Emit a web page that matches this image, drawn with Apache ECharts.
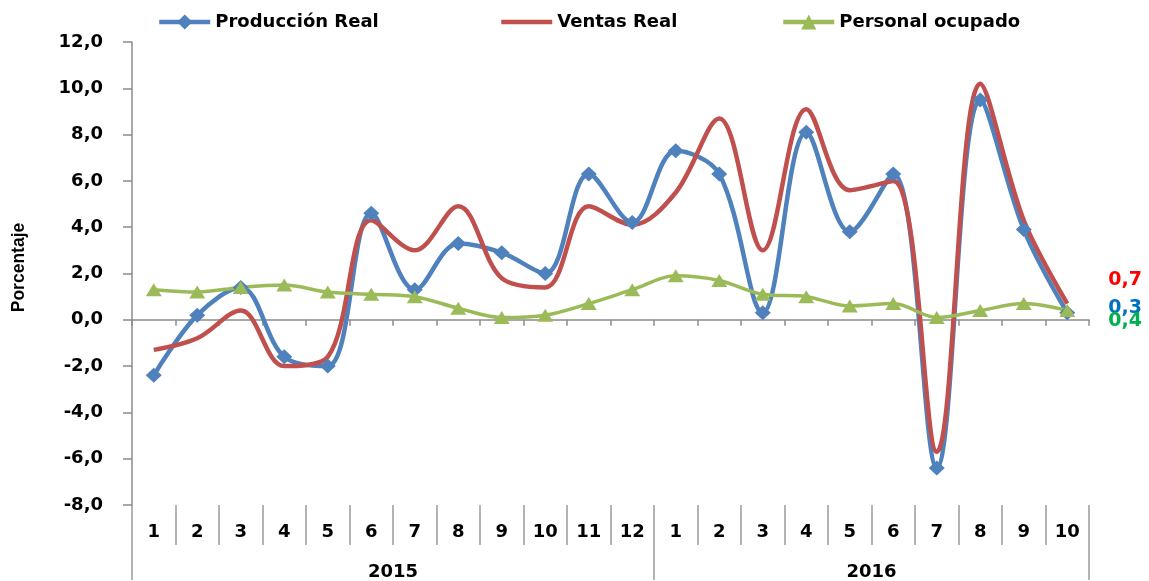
<!DOCTYPE html>
<html>
<head>
<meta charset="utf-8">
<script src="https://cdn.jsdelivr.net/npm/echarts@6/dist/echarts.min.js"></script>
<style>
html,body{margin:0;padding:0;background:#fff;}
#chart{width:1149px;height:581px;}
</style>
</head>
<body>
<div id="chart"></div>
<script>
// ---- data ----
const months = ['1','2','3','4','5','6','7','8','9','10','11','12','1','2','3','4','5','6','7','8','9','10'];
const years = ['2015', '2016'];
const yearStart = [0, 12, 22];          // category boundaries of each year
const yearCenter = [6, 17];             // centre positions of year labels
const produccion = [-2.4, 0.2, 1.4, -1.6, -2.0, 4.6, 1.3, 3.3, 2.9, 2.0, 6.3, 4.2, 7.3, 6.3, 0.3, 8.1, 3.8, 6.3, -6.4, 9.5, 3.9, 0.3];
const ventas     = [-1.3, -0.8, 0.4, -2.0, -1.6, 4.3, 3.0, 4.9, 1.8, 1.4, 4.9, 4.1, 5.5, 8.7, 3.0, 9.1, 5.6, 6.0, -5.7, 10.2, 4.3, 0.7];
const personal   = [1.3, 1.2, 1.4, 1.5, 1.2, 1.1, 1.0, 0.5, 0.1, 0.2, 0.7, 1.3, 1.9, 1.7, 1.1, 1.0, 0.6, 0.7, 0.1, 0.4, 0.7, 0.4];
const yTicks = { min: -8, max: 12, interval: 2 };

const fmt = v => Number(v).toFixed(1).replace('.', ',');
const FONT = 'DejaVu Sans';
const FS = 18;
const SMOOTH = 0.35;

function withEndLabel(arr, color, dy, dist) {
  return arr.map((v, i) => {
    if (i !== arr.length - 1) return v;
    return {
      value: v,
      label: {
        show: true, position: 'right', distance: dist, offset: [0, dy],
        formatter: p => fmt(p.value), color: color,
        fontFamily: FONT, fontWeight: 'bold', fontSize: 19
      }
    };
  });
}

const chart = echarts.init(document.getElementById('chart'), null, { renderer: 'canvas' });
const legendText = { fontFamily: FONT, fontWeight: 'bold', fontSize: FS, color: '#000' };
const legendBase = { top: 13, padding: 0, itemWidth: 51, itemHeight: 19, textStyle: legendText };
const option = {
  animation: false,
  backgroundColor: '#fff',
  grid: { left: 132, right: 60, top: 42, bottom: 75, containLabel: false },
  legend: [
    Object.assign({ data: ['Producción Real'], left: 157, lineStyle: { width: 4.5 } }, legendBase),
    Object.assign({ data: ['Ventas Real'], left: 499, lineStyle: { width: 4.5 }, itemStyle: { opacity: 0 } }, legendBase),
    Object.assign({ data: ['Personal ocupado'], left: 781, lineStyle: { width: 4.5 } }, legendBase)
  ],
  xAxis: [
    { // axis line on zero
      type: 'category', data: months, boundaryGap: true,
      axisLine: { onZero: true, lineStyle: { color: '#8c8c8c', width: 1.5 } },
      axisTick: { show: true, length: 6, interval: 0, lineStyle: { color: '#8c8c8c', width: 1.5 } },
      axisLabel: { show: false }, splitLine: { show: false }
    },
    { // month labels at bottom
      type: 'category', data: months, position: 'bottom', boundaryGap: true,
      axisLine: { show: false, onZero: false },
      axisTick: { show: true, length: 40, interval: 0, lineStyle: { color: '#9a9a9a', width: 1.5 } },
      axisLabel: { show: true, interval: 0, margin: 18, fontFamily: FONT, fontWeight: 'bold', fontSize: FS, color: '#000' },
      splitLine: { show: false }
    },
    { // year labels
      type: 'value', min: 0, max: 22, position: 'bottom',
      axisLine: { show: false, onZero: false },
      axisTick: { show: true, length: 75, customValues: yearStart, lineStyle: { color: '#9a9a9a', width: 1.5 } },
      axisLabel: { show: true, customValues: yearCenter, margin: 58,
        formatter: v => years[yearCenter.indexOf(v)] || '',
        fontFamily: FONT, fontWeight: 'bold', fontSize: FS, color: '#000' },
      splitLine: { show: false }
    }
  ],
  yAxis: {
    type: 'value', min: yTicks.min, max: yTicks.max, interval: yTicks.interval,
    name: 'Porcentaje', nameLocation: 'middle', nameGap: 104, nameRotate: 90,
    nameTextStyle: { fontFamily: 'Liberation Sans', fontWeight: 'bold', fontSize: 17.5, color: '#000', padding: [0, 0, 0, 12] },
    axisLine: { show: true, lineStyle: { color: '#8c8c8c', width: 1.5 } },
    axisTick: { show: true, length: 9, lineStyle: { color: '#8c8c8c', width: 1.5 } },
    axisLabel: { formatter: v => fmt(v), margin: 29, fontFamily: FONT, fontWeight: 'bold', fontSize: FS, color: '#000' },
    splitLine: { show: false }
  },
  series: [
    {
      name: 'Producción Real', type: 'line', xAxisIndex: 0, smooth: SMOOTH,
      data: withEndLabel(produccion, '#0070C0', -5, 33),
      symbol: 'diamond', symbolSize: [16, 15],
      lineStyle: { color: '#4F81BD', width: 4.5 },
      itemStyle: { color: '#4F81BD' }
    },
    {
      name: 'Ventas Real', type: 'line', xAxisIndex: 0, smooth: SMOOTH,
      data: ventas,
      symbol: 'none', showSymbol: false,
      endLabel: { show: true, distance: 41, offset: [0, -24], formatter: p => fmt(p.value),
        color: '#FF0000', fontFamily: FONT, fontWeight: 'bold', fontSize: 19 },
      lineStyle: { color: '#C0504D', width: 4.5 },
      itemStyle: { color: '#C0504D' }
    },
    {
      name: 'Personal ocupado', type: 'line', xAxisIndex: 0, smooth: SMOOTH,
      data: withEndLabel(personal, '#00B050', 11, 33),
      symbol: 'triangle', symbolSize: [16, 13],
      lineStyle: { color: '#9BBB59', width: 3.5 },
      itemStyle: { color: '#9BBB59' }
    }
  ]
};
chart.setOption(option);
</script>
</body>
</html>
